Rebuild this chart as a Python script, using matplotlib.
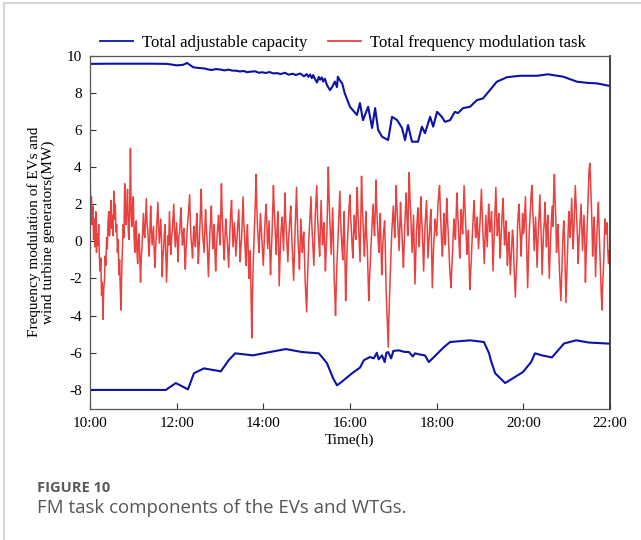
import matplotlib
matplotlib.use('Agg')
import matplotlib.pyplot as plt
from matplotlib.lines import Line2D
import numpy as np

plt.rcParams['font.family'] = ['Liberation Serif', 'DejaVu Serif']
plt.rcParams['axes.unicode_minus'] = False

# upper envelope: total adjustable capacity (hours, MW)
cap_up_t = [10.0, 10.5, 10.92, 11.4, 11.78, 12.0, 12.15, 12.24, 12.3, 12.38,
            12.5, 12.65, 12.72, 12.82, 12.9, 13.0, 13.1, 13.2, 13.28, 13.38,
            13.46, 13.55, 13.62, 13.7, 13.81, 13.9, 13.97, 14.05, 14.15, 14.22,
            14.32, 14.4, 14.5, 14.58, 14.68, 14.75, 14.85, 14.94, 15.0, 15.04,
            15.08, 15.12, 15.15, 15.2, 15.24, 15.28, 15.31, 15.35, 15.38, 15.42,
            15.47, 15.54, 15.6, 15.65, 15.7, 15.72, 15.77, 15.82, 15.88, 16.0,
            16.16, 16.23, 16.3, 16.42, 16.51, 16.58, 16.65, 16.74, 16.88, 16.97,
            17.09, 17.2, 17.27, 17.34, 17.43, 17.57, 17.66, 17.73, 17.85, 17.92,
            18.01, 18.12, 18.19, 18.31, 18.42, 18.49, 18.61, 18.77, 18.93, 19.07,
            19.23, 19.39, 19.62, 19.92, 20.32, 20.57, 20.92, 21.24, 21.47, 21.7,
            22.0]
cap_up_v = [9.55, 9.56, 9.56, 9.56, 9.55, 9.47, 9.5, 9.6, 9.5, 9.37,
            9.33, 9.3, 9.25, 9.22, 9.27, 9.25, 9.2, 9.24, 9.19, 9.18,
            9.14, 9.17, 9.1, 9.13, 9.15, 9.07, 9.1, 9.06, 9.11, 9.04,
            9.05, 9.0, 9.07, 8.97, 9.02, 8.95, 9.03, 8.88, 9.0, 8.85,
            8.98, 8.78, 8.95, 8.7, 8.55, 8.85, 8.7, 8.82, 8.6, 8.75,
            8.4, 8.14, 8.35, 8.6, 8.3, 8.86, 8.65, 8.5, 7.96, 7.24,
            6.8, 7.44, 6.52, 7.24, 6.1, 7.17, 5.99, 5.63, 5.45, 6.70,
            6.52, 6.1, 5.45, 6.26, 5.36, 5.36, 6.17, 5.82, 6.70, 6.17,
            6.97, 6.70, 6.43, 6.52, 6.97, 6.9, 7.17, 7.24, 7.6, 7.69,
            8.14, 8.59, 8.83, 8.91, 8.91, 8.99, 8.86, 8.59, 8.53, 8.50,
            8.36]

# lower envelope of the adjustable capacity
cap_dn_t = [10.0, 11.75, 11.98, 12.26, 12.4, 12.63, 13.02, 13.2, 13.35, 13.76,
            14.15, 14.52, 14.89, 15.28, 15.38, 15.47, 15.61, 15.7, 15.79, 16.05,
            16.23, 16.32, 16.46, 16.55, 16.62, 16.66, 16.74, 16.8, 16.84, 16.88,
            16.95, 17.0, 17.13, 17.25, 17.36, 17.45, 17.5, 17.62, 17.73, 17.82,
            18.17, 18.31, 18.77, 19.09, 19.21, 19.25, 19.35, 19.58, 19.81, 19.99,
            20.18, 20.27, 20.43, 20.66, 20.94, 21.22, 21.52, 22.0]
cap_dn_v = [-8.0, -8.0, -7.63, -7.97, -7.1, -6.84, -7.0, -6.4, -6.03, -6.14,
            -5.96, -5.8, -5.96, -6.03, -6.3, -6.57, -7.37, -7.75, -7.6, -7.1,
            -6.8, -6.4, -6.23, -6.3, -6.0, -6.35, -6.14, -6.5, -6.0, -5.96,
            -6.3, -5.9, -5.87, -5.95, -5.96, -6.2, -6.03, -6.1, -6.14, -6.5,
            -5.69, -5.42, -5.33, -5.42, -6.03, -6.4, -7.1, -7.63, -7.3, -7.04,
            -6.5, -6.03, -6.14, -6.25, -5.5, -5.33, -5.45, -5.51]

# total frequency modulation task, one value per minute from 10:00 (one row per hour)
fm_h10 = [4.1, 1.5, 2.4, 0.9, 1.9, 0.1, 1.2, -0.3, 1.6, -0.6, 0.4, -0.2, 0.9, -0.8, -1.6,
          -0.9, -2.9, -2.2, -4.2, -2.6, -2.1, -0.8, -1.3, 0.2, -0.4, 1.1, 1.6, 0.3, 1.0, 2.2,
          0.7, 1.4, 0.3, 2.7, 1.2, 2.0, 0.5, 0.9, -0.6, 0.1, -1.8, -1.0, -2.7, -3.7, -1.5,
          -0.3, 0.9, 0.2, 3.1, 1.6, 0.9, 2.0, 2.8, 0.6, 0.1, 1.9, 5.0, 1.5, 0.8, 1.9]
fm_h11 = [2.4, 0.3, -0.6, 0.8, 1.1, -0.5, -1.2, 0.1, 0.4, -1.0, -2.2, -0.9, -0.3, 0.6, 1.5,
          0.4, 0.2, 1.3, 2.3, 1.0, 0.6, -0.2, -0.8, 0.5, 1.9, 0.7, -0.2, 0.3, 0.8, -0.6,
          -1.4, -0.3, 0.5, 1.4, 2.1, 0.8, -0.1, 0.6, 1.2, 0.1, -1.9, -0.8, -0.4, 0.5, 0.9,
          -0.7, -2.2, -1.0, 0.3, -0.2, 1.6, 0.5, -0.7, 0.2, 0.6, 1.3, 2.0, 0.7, -0.3, 0.4]
fm_h12 = [1.0, -0.2, -1.1, 0.3, 0.4, 1.2, 1.8, 0.6, -0.2, 0.4, 0.7, -0.6, -1.5, -0.4, 0.2,
          0.9, 1.3, 1.9, 2.5, 1.0, 0.1, -0.3, -0.9, 0.2, 0.8, 0.1, -0.3, 0.7, 1.5, 0.2,
          -1.2, -0.4, 0.6, 1.7, 2.8, 1.1, 0.4, -0.1, -0.6, 0.5, 1.7, 0.8, 0.2, -0.9, -1.9,
          -0.6, 0.5, 1.1, 1.9, 0.6, -0.4, 0.2, 0.9, -0.5, -1.6, -0.5, 0.3, 0.8, 1.4, 0.5]
fm_h13 = [-0.2, 1.4, 3.1, 1.5, 0.6, -0.4, -1.0, 0.3, 1.2, 0.5, 0.1, -0.6, -1.4, -0.2, 0.8,
          1.6, 2.2, 0.9, -0.3, 0.4, 1.0, 0.2, -0.8, -0.1, 0.5, 1.1, 1.7, 0.4, -1.1, -0.3,
          0.2, 1.3, 2.4, 1.0, 0.4, -0.6, -1.3, 0.1, 0.9, -0.4, -2.0, -1.1, -0.5, -2.8, -5.2,
          -3.0, -1.2, -0.1, 1.0, 2.2, 3.6, 1.9, 0.7, 0.1, -0.6, 0.4, 1.5, 0.8, 0.2, -0.5]
fm_h14 = [-1.3, -0.2, 0.8, 1.5, 2.0, 0.7, -0.4, 0.3, 1.1, -0.5, -1.8, -0.6, 0.3, 1.6, 3.0,
          1.8, 0.9, 0.1, -0.7, 0.6, 1.6, 0.2, -2.4, -1.0, 0.2, 0.8, 1.3, 0.4, -0.5, 1.1,
          2.6, 1.2, 0.4, -0.3, -1.1, 0.1, 0.7, 1.4, 1.9, 0.6, -0.3, -1.2, -2.1, -0.7, 0.6,
          1.7, 2.9, 1.3, 0.1, -0.6, -1.5, -0.2, 1.2, 0.3, -0.6, 0.1, 0.5, -0.8, -2.2, -3.0]
fm_h15 = [-3.8, -2.2, -1.0, 0.1, 0.9, 1.8, 2.4, 1.0, 0.2, -0.6, -1.3, 0.2, 1.5, 2.3, 3.0,
          1.4, 0.6, -0.1, -0.8, 0.7, 2.2, 0.9, -0.2, 0.5, 1.0, -0.4, -1.6, -0.5, 0.4, 2.1,
          4.0, 2.4, 1.2, 0.2, -0.7, 0.6, 1.8, 0.3, -1.9, -2.8, -4.0, -2.4, -1.2, -0.2, 0.8,
          1.9, 2.7, 1.1, 0.3, -0.4, -1.0, 0.5, 1.6, -0.8, -3.2, -1.7, -0.5, 0.4, 1.3, 2.0]
fm_h16 = [2.5, 1.2, 0.6, -0.3, -0.9, 0.4, 1.4, 0.6, 0.1, 1.5, 2.9, 1.6, 0.7, -0.2, -1.1,
          1.2, 3.5, 2.0, 1.0, 0.1, -0.8, 0.5, 1.6, 0.4, -0.4, -1.8, -3.2, -2.1, -1.3, -0.3,
          0.5, 1.4, 2.0, 0.9, 0.3, 1.6, 3.3, 1.8, 0.9, 0.1, -0.6, 0.6, 1.5, -0.2, -1.8,
          -0.6, 0.2, 0.7, 1.1, -0.6, -2.6, -3.6, -4.6, -5.7, -3.9, -2.6, -1.5, -0.4, 0.6, 1.3]
fm_h17 = [1.9, 0.9, 0.2, 1.5, 3.0, 1.9, 1.1, 0.3, -0.5, 0.8, 2.1, 1.0, 0.4, -0.6, -1.4,
          -0.1, 1.0, 1.9, 2.6, 1.2, 0.3, 1.8, 3.7, 2.4, 1.6, 0.5, -0.6, 0.4, 1.4, -0.4,
          -2.3, -0.8, 0.5, 1.1, 1.8, 0.6, -0.3, 0.9, 2.4, 1.4, 0.7, -0.4, -1.6, -0.2, 0.9,
          1.6, 2.2, 0.6, -0.9, -0.2, 0.4, 1.1, 1.7, -0.4, -2.5, -1.2, -0.1, 0.6, 1.2, 0.7]
fm_h18 = [0.3, 1.2, 2.1, 2.6, 3.0, 1.8, 0.8, -0.1, -0.8, 0.4, 1.5, 0.5, -0.2, 1.1, 2.3,
          1.2, 0.5, -0.5, -1.4, -2.0, -2.5, -1.4, -0.6, 0.4, 1.2, 0.5, 0.1, 1.4, 2.6, 1.6,
          0.9, -0.1, -0.9, 0.5, 1.7, 0.9, 0.4, 1.8, 3.0, 2.0, 1.1, 0.2, -0.7, -0.1, 0.6,
          -1.2, -2.6, -1.7, -1.0, 0.0, 0.8, 1.6, 2.2, 1.0, 0.2, 0.7, 1.3, 0.4, -0.4, 0.3]
fm_h19 = [1.0, 1.9, 2.8, 1.5, 0.6, -0.3, -1.2, 0.1, 1.4, 0.5, -0.3, 0.9, 2.0, 1.1, 0.5,
          1.0, 1.6, 0.2, -1.6, -0.4, 0.7, 1.8, 2.9, 1.4, 0.3, 0.8, 1.5, 0.3, -0.9, 0.1,
          0.9, 1.7, 2.3, 0.9, -0.2, 0.4, 1.1, -0.1, -1.3, -0.3, 0.5, -0.6, -1.8, -1.0, -0.2,
          0.6, 0.2, -1.2, -2.1, -3.0, -1.9, -1.1, 0.8, 1.5, 2.0, 0.8, 0.2, -0.8, 0.4, 1.5]
fm_h20 = [0.4, 0.6, 1.5, 2.4, 0.8, -1.0, -2.5, -1.2, 0.3, 1.1, 1.8, 2.6, 3.0, 1.7, 0.9,
          -0.5, 0.4, 1.3, 0.2, -1.4, -0.3, 0.7, 1.6, 2.5, 1.0, 0.1, -1.8, -0.6, 0.5, 1.0,
          2.1, 0.9, -0.3, 0.8, 1.4, -0.5, -2.0, -0.7, 0.4, 1.1, 1.9, 0.8, 2.5, 3.6, 2.2,
          1.2, -0.6, 0.3, 0.9, -0.4, -1.5, -2.4, -3.2, -2.0, -0.8, 0.4, 1.1, 0.2, -1.6, -3.3]
fm_h21 = [-2.0, -0.9, 0.4, 1.6, 0.7, 0.2, 1.3, 2.3, 0.9, -0.4, 0.6, 1.9, 3.0, 2.0, 1.1,
          0.2, -1.2, -0.1, 0.6, 1.4, 2.0, 0.8, -0.5, 0.5, 1.4, 0.3, -2.2, -0.8, 0.3, 1.5,
          2.6, 3.8, 4.2, 3.4, 2.1, 1.0, -0.8, 0.4, 1.3, 0.2, -1.9, -0.6, 0.5, 1.4, 2.1,
          0.6, -0.6, -1.8, -2.9, -3.7, -2.2, -1.4, -0.2, 1.2, 0.6, 0.4, 1.0, -0.5, -1.2, -0.5]
fm_end = [-0.7]

fm_task = (fm_h10 + fm_h11 + fm_h12 + fm_h13 + fm_h14 + fm_h15 + fm_h16 + fm_h17
           + fm_h18 + fm_h19 + fm_h20 + fm_h21 + fm_end)
fm_t = 10 + np.arange(len(fm_task)) / 60.0

xticks = [10, 12, 14, 16, 18, 20, 22]
xtick_labels = ['10:00', '12:00', '14:00', '16:00', '18:00', '20:00', '22:00']
yticks = [-8, -6, -4, -2, 0, 2, 4, 6, 8, 10]

blue = '#0d12a6'
red = '#e8413f'

fig = plt.figure(figsize=(6.41, 5.40), dpi=100)
ax = fig.add_axes([0.1404, 0.2435, 0.8112, 0.6537])

ax.plot(cap_up_t, cap_up_v, color=blue, lw=1.5, label='Total adjustable capacity')
ax.plot(fm_t, fm_task, color=red, lw=1.1, label='Total frequency modulation task')
ax.plot(cap_dn_t, cap_dn_v, color=blue, lw=1.5)

ax.set_xlim(10, 22)
ax.set_ylim(-9, 10)
ax.set_xticks(xticks)
ax.set_xticklabels(xtick_labels)
ax.set_yticks(yticks)
ax.tick_params(direction='in', length=4, width=0.8, labelsize=11, colors='#333333',
               labelcolor='black', pad=6)
for s in ['left', 'bottom', 'top']:
    ax.spines[s].set_color('#555555')
    ax.spines[s].set_linewidth(0.9)
ax.spines['right'].set_color('#333333')
ax.spines['right'].set_linewidth(1.3)

ax.set_xlabel('Time(h)', fontsize=11, labelpad=3)
ax.set_ylabel('Frequency modulation of EVs and\nwind turbine generators(MW)',
              fontsize=11, labelpad=8, linespacing=1.1)

leg = ax.legend(loc='lower left', bbox_to_anchor=(0.016, 1.008), ncol=2, frameon=False,
                fontsize=12, handlelength=2.0, handletextpad=0.55, columnspacing=1.2,
                borderaxespad=0.0, borderpad=0.1)
for h in leg.get_lines():
    h.set_linewidth(1.3)

# caption block and frame
fig.text(37 / 641, 1 - 488 / 540, 'FIGURE 10', family=['Open Sans', 'DejaVu Sans'],
         fontsize=10.5, fontweight='bold', color='#5a5a5a', va='center')
fig.text(37 / 641, 1 - 508 / 540, 'FM task components of the EVs and WTGs.',
         family=['Open Sans', 'DejaVu Sans'], fontsize=13.4, color='#555555', va='center')
fig.add_artist(Line2D([4 / 641, 4 / 641], [0, 1 - 3 / 540], color='#d5d5d5', lw=1.5))
fig.add_artist(Line2D([4 / 641, 1], [1 - 3 / 540, 1 - 3 / 540], color='#d5d5d5', lw=1.5))

fig.savefig('out.png', dpi=100)
